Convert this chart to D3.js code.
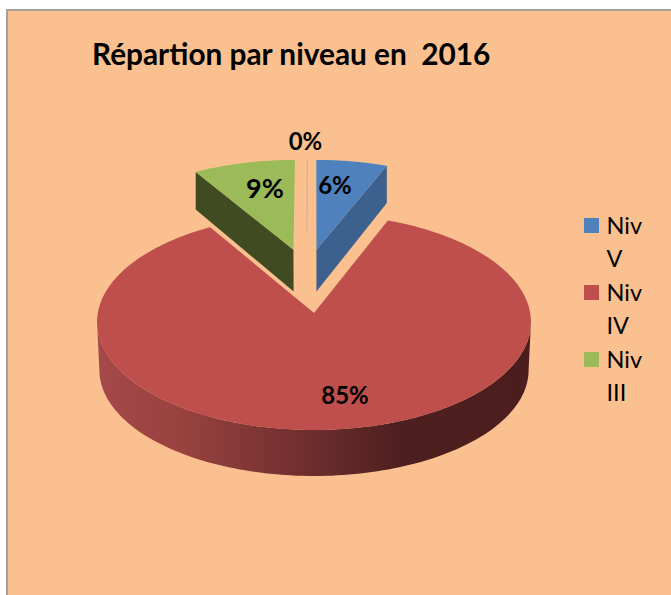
<!DOCTYPE html>
<html><head><meta charset="utf-8">
<script src="https://cdn.jsdelivr.net/npm/d3@7"></script>
<style>html,body{margin:0;padding:0;background:#fff;overflow:hidden}svg{display:block}text{font-family:Lato,"Open Sans",sans-serif;fill:#000}</style>
</head><body><svg id="c" width="671" height="595"></svg>
<script>
const categories = ["Niv V","Niv IV","Niv III","(vide)"];
const values = [6, 85.4, 8.6, 0];
const colors = ["#4F81BD","#BE4F4C","#9BBB59","#D9A98F"];
const wallColors = ["#3C618F","#7A302E","#404B22","#C9A08A"];
const legendLines = [["Niv","V"],["Niv","IV"],["Niv","III"]];
const titleText = "Répartion par niveau en  2016";

const svg = d3.select("#c");
const W = 671, H = 595;
svg.append("rect").attr("width",W).attr("height",H).attr("fill","#fff");
svg.append("rect").attr("x",7).attr("y",10).attr("width",W+10).attr("height",H+10)
   .attr("fill","#FBC08F").attr("stroke","#A3A09C").attr("stroke-width",2);

// perspective projection of the pie plane (u right, v away from viewer)
const top_ = {A:216.2, B:107.25, k:0.0833, x0:314, y0:313};
const bot_ = {A:213,   B:110.4,  k:0.072,  x0:314, y0:357};
const botWall = {A:213, B:104.4, k:0.1226, x0:314, y0:357};
const proj = (P,u,v) => { const w = 1 + P.k*v; return [P.x0 + P.A*u/w, P.y0 - P.B*v/w]; };
const polar = (P,a,r,o) => proj(P, o[0]+r*Math.sin(a), o[1]+r*Math.cos(a));

const pie = d3.pie().sort(null).value(d=>d)(values);
const offsets = [[0.012,0.62],[0,0],[-0.1,0.62],[-0.035,0.62]];
const line = d3.line().curve(d3.curveLinearClosed);
const rad = d=>d*Math.PI/180;
const sampleArc = (P,a0,a1,o,n=120) => d3.range(n+1).map(i=>polar(P,a0+(a1-a0)*i/n,1,o));

const defs = svg.append("defs");
const grad = defs.append("linearGradient").attr("id","wallGrad").attr("gradientUnits","userSpaceOnUse")
  .attr("x1",97).attr("x2",531).attr("y1",0).attr("y2",0);
[[0,"#A5484A"],[0.2,"#98423F"],[0.5,"#6C2C2C"],[0.7,"#4E1F1F"],[1,"#4B1D1D"]]
  .forEach(s=>grad.append("stop").attr("offset",s[0]).attr("stop-color",s[1]));

const g = svg.append("g");
// red slice: front wall then top face
const red = pie[1], oR = offsets[1];
const wallTop = sampleArc(top_,rad(95),rad(265),oR);
const wallBot = sampleArc(botWall,rad(97),rad(263),oR).reverse();
g.append("path").attr("d",line(wallTop.concat(wallBot))).attr("fill","url(#wallGrad)");
g.append("path").attr("d",line([polar(top_,0,0,oR)].concat(sampleArc(top_,red.startAngle,red.endAngle,oR,240))))
  .attr("fill",colors[1]);

// exploded slices: radial wall then top face
[0,2].forEach(i=>{
  const s = pie[i], o = offsets[i];
  const edge = i===0 ? s.endAngle : s.startAngle;
  g.append("path").attr("d",line([polar(top_,0,0,o),polar(top_,edge,1,o),polar(bot_,edge,1,o),polar(bot_,0,0,o)]))
    .attr("fill",wallColors[i]);
  g.append("path").attr("d",line([polar(top_,0,0,o)].concat(sampleArc(top_,s.startAngle,s.endAngle,o,40))))
    .attr("fill",colors[i]);
});
// the empty 0 % slice is only a hairline
const oZ = offsets[3];
const p0 = polar(top_,0,0.2,oZ), p1 = polar(top_,0,1,oZ);
g.append("line").attr("x1",p0[0]).attr("y1",p0[1]).attr("x2",p1[0]).attr("y2",p1[1])
  .attr("stroke",colors[3]).attr("stroke-width",1);

// title
svg.append("text").attr("x",92).attr("y",65).attr("xml:space","preserve").style("white-space","pre")
  .attr("font-size",29.8).attr("font-weight",700).text(titleText);

// data labels
const labelPos = [[335,194],[345,404],[265,197.5],[305.5,150]];
const labelSize = [24,24,27,24];
const fmt = v => d3.format(".0f")(v)+"%";
svg.append("g").selectAll("text").data(pie).join("text")
  .attr("x",(d,i)=>labelPos[i][0]).attr("y",(d,i)=>labelPos[i][1])
  .attr("text-anchor","middle").attr("font-size",(d,i)=>labelSize[i]).attr("font-weight",700)
  .text(d=>fmt(d.value));

// legend
const ly = d3.scalePoint().domain(d3.range(legendLines.length)).range([218,352]);
const lg = svg.append("g").selectAll("g").data(legendLines).join("g")
  .attr("transform",(d,i)=>`translate(584,${ly(i)})`);
lg.append("rect").attr("width",15).attr("height",15).attr("fill",(d,i)=>colors[i]);
lg.each(function(d){
  d3.select(this).selectAll("text").data(d).join("text")
    .attr("x",22.5).attr("y",(t,j)=>16+j*32.5).attr("font-size",23.5).text(t=>t);
});
</script></body></html>
